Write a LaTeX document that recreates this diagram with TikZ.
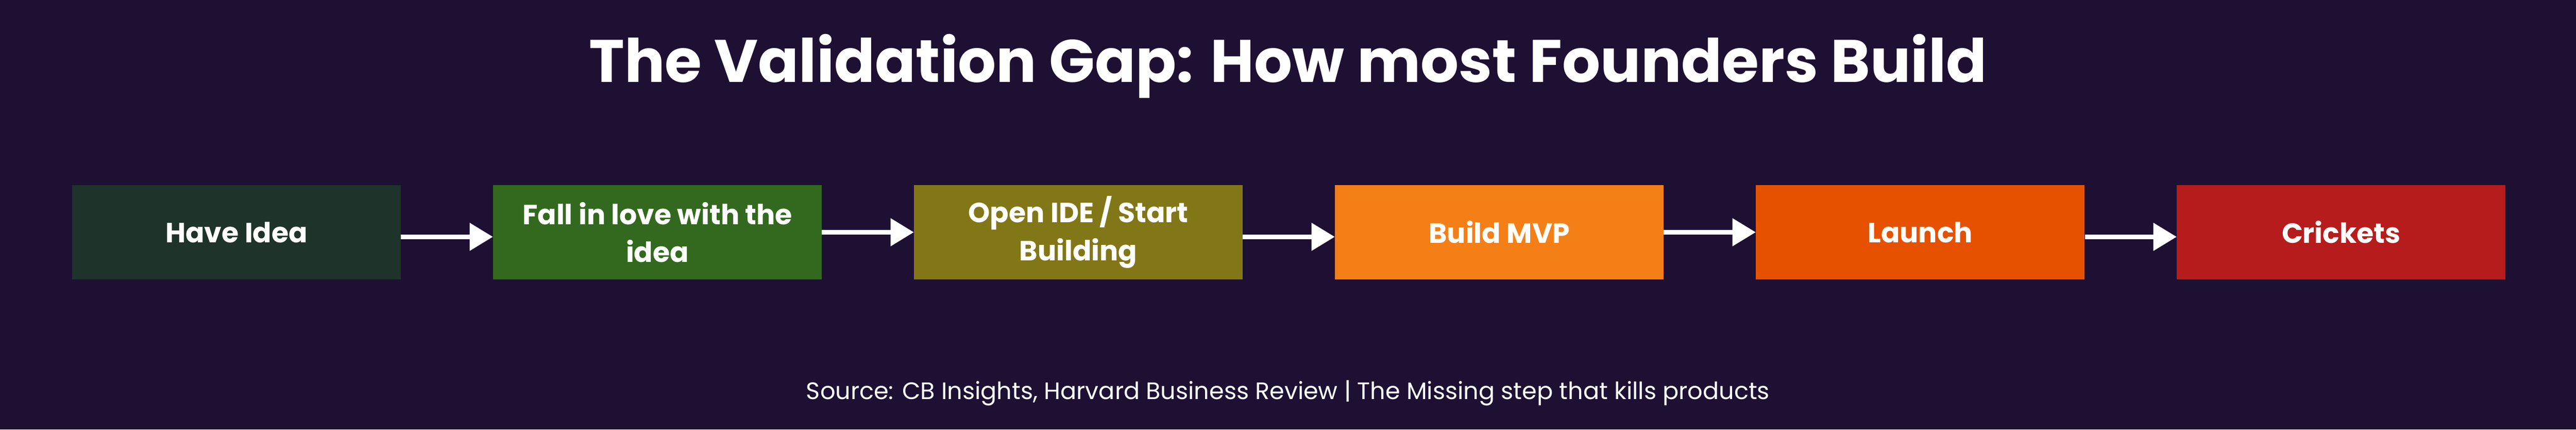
\documentclass[tikz,border=0pt]{standalone}
\usepackage{fontspec}
\setmainfont{Poppins}
\usetikzlibrary{positioning,arrows.meta}
\definecolor{bgpurple}{HTML}{1E1033}
\definecolor{stepa}{HTML}{1E3329}
\definecolor{stepb}{HTML}{33691E}
\definecolor{stepc}{HTML}{827717}
\definecolor{stepd}{HTML}{F57F17}
\definecolor{stepe}{HTML}{E65100}
\definecolor{stepf}{HTML}{B71C1C}

\begin{document}
\begin{tikzpicture}[node distance=2.8cm,
                main/.style = {minimum width=10.01cm, minimum height=2.86cm, inner sep=0pt, align=center,
                               text=white, font=\bfseries\fontsize{24}{32.7}\selectfont},
                every path/.style = {color=white}]
                \fill[bgpurple] (0,0) rectangle (78.48,-13.08);
                \useasboundingbox (0,0) rectangle (78.48,-13.08);
                \node[anchor=base, text=white, font=\bfseries\fontsize{52}{62}\selectfont] (title) at (39.24,-2.51) {The Validation Gap: How most Founders Build};
                \node[main, fill=stepa] (1) at (7.205,-7.07) {Have Idea};
                \node[main, fill=stepb] (2) [right=of 1] {Fall in love with the\\idea};
                \node[main, fill=stepc] (3) [right=of 2] {Open IDE / Start\\Building};
                \node[main, fill=stepd] (4) [right=of 3] {Build MVP};
                \node[main, fill=stepe] (5) [right=of 4] {Launch};
                \node[main, fill=stepf] (6) [right=of 5] {Crickets};
                \node[anchor=base, text=white, font=\fontsize{20.6}{25}\selectfont] (source) at (39.24,-12.15) {Source: CB Insights, Harvard Business Review | The Missing step that kills products};
                \path[line width=1.4mm, -{Triangle[length=7.1mm, width=8.2mm]}]
                    ([yshift=-1.4mm]1.east) edge ([yshift=-1.4mm]2.west)
                    (2) edge (3)
                    ([yshift=-1.4mm]3.east) edge ([yshift=-1.4mm]4.west)
                    (4) edge (5)
                    ([yshift=-1.4mm]5.east) edge ([yshift=-1.4mm]6.west);
            \end{tikzpicture}
\end{document}
